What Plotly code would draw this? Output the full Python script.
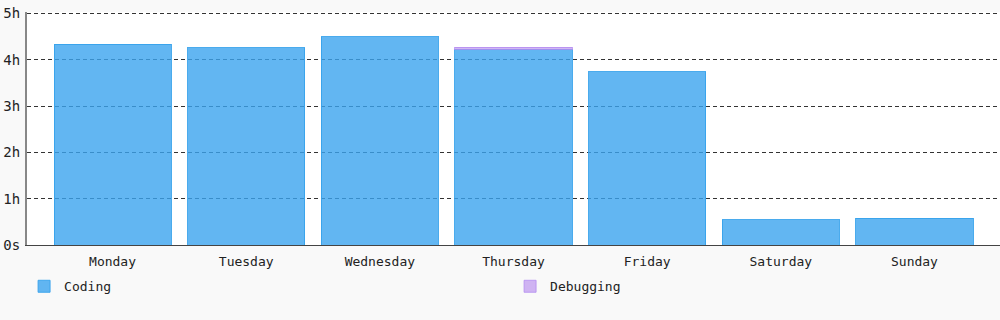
import plotly.graph_objects as go

days = ["Monday", "Tuesday", "Wednesday", "Thursday", "Friday", "Saturday", "Sunday"]
coding_h = [4.33, 4.26, 4.50, 4.23, 3.74, 0.54, 0.58]
debugging_h = [None, None, None, 0.04, None, None, None]
y_ticks = [0, 1, 2, 3, 4, 5]
y_labels = ["0s", "1h", "2h", "3h", "4h", "5h"]

font = "DejaVu Sans Mono, monospace"

fig = go.Figure()
fig.add_trace(go.Bar(
    x=days, y=coding_h, name="Coding",
    marker=dict(color="rgba(59,164,239,0.8)", line=dict(color="rgba(54,162,235,0.9)", width=1)),
))
fig.add_trace(go.Bar(
    x=days, y=debugging_h, name="Debugging",
    marker=dict(color="rgba(190,150,240,0.7)", line=dict(color="rgba(180,140,240,0.8)", width=1)),
))

fig.update_layout(
    barmode="stack",
    bargap=0.124,
    width=1000, height=320,
    margin=dict(l=27, r=0, t=12, b=75),
    paper_bgcolor="#f9f9f9",
    plot_bgcolor="#ffffff",
    font=dict(family=font, size=13, color="#222"),
    showlegend=True,
    legend=dict(
        orientation="h", traceorder="normal",
        x=-0.003, xanchor="left", y=-0.113, yanchor="top",
        entrywidth=441, entrywidthmode="pixels",
        font=dict(family=font, size=13, color="#222"),
        bgcolor="rgba(0,0,0,0)",
    ),
)
fig.update_xaxes(
    range=[-0.64, 6.64],
    showgrid=False,
    showline=True, linecolor="#444", linewidth=1,
    ticks="", tickfont=dict(family=font, size=13, color="#222"),
    ticklabelstandoff=4,
    fixedrange=True,
)
fig.update_yaxes(
    range=[0, 5.03],
    tickvals=y_ticks, ticktext=y_labels,
    showgrid=True, gridcolor="#333", gridwidth=1, griddash="4px,3px",
    zeroline=False,
    showline=True, linecolor="#888", linewidth=2,
    ticks="", tickfont=dict(family=font, size=14, color="#222"),
    ticklabelstandoff=2,
)

fig.write_html("out.html")
